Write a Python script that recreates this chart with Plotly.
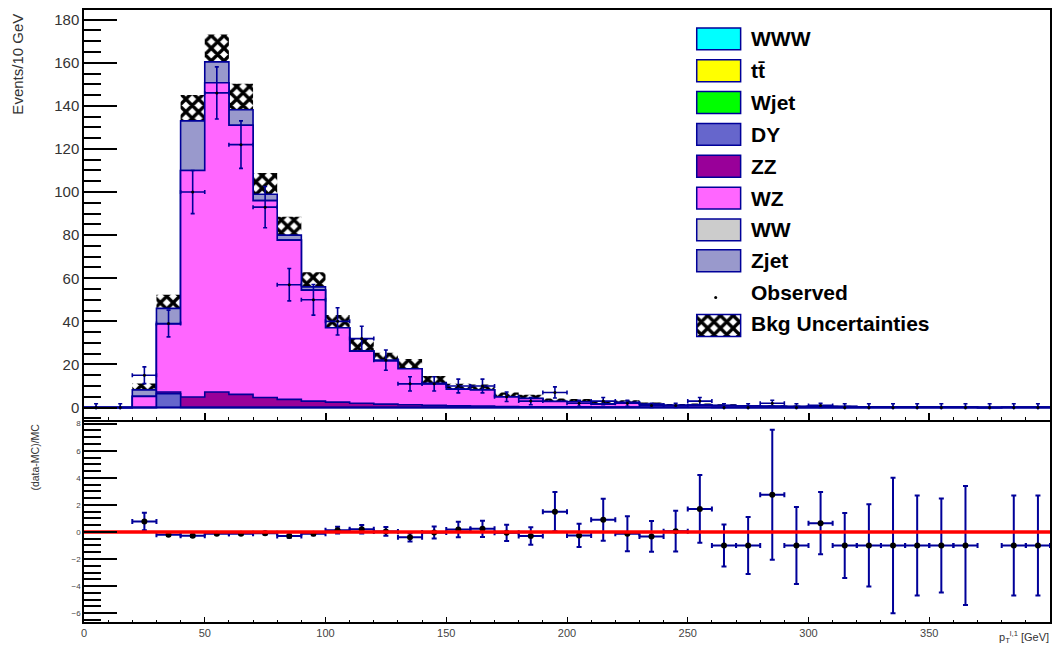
import plotly.graph_objects as go

# ---------------------------------------------------------------------------
# Binning: 40 bins of 10 GeV from 0 to 400 GeV
# ---------------------------------------------------------------------------
N_BINS = 40
edges = [10 * i for i in range(N_BINS + 1)]
centers = [e + 5 for e in edges[:-1]]

# Background components (events per bin), stacked bottom -> top
www = [0.0] * N_BINS
ttbar = [0.0] * N_BINS
wjet = [0.0] * N_BINS
dy = [0, 0, 0, 6.4, 0, 0, 0, 0, 0, 0,
      0, 0, 0, 0, 0, 0, 0, 0, 0, 0,
      0, 0, 0, 0, 0, 0, 0, 0, 0, 0,
      0, 0, 0, 0, 0, 0, 0, 0, 0, 0]
zz = [0, 0, 0, 0.8, 4.9, 7.2, 6.1, 4.7, 3.8, 3.0,
      2.5, 2.0, 1.6, 1.3, 1.0, 0.8, 0.7, 0.5, 0.4, 0.35,
      0.3, 0.25, 0.2, 0.15, 0.15, 0.12, 0.1, 0.1, 0.08, 0.08,
      0.06, 0.05, 0.05, 0.04, 0.04, 0.03, 0.03, 0, 0.02, 0.02]
wz = [0, 0, 5.2, 31.6, 105.1, 143.5, 124.9, 91.3, 73.9, 51.5,
      34.5, 24.2, 20.0, 16.7, 10.1, 7.7, 7.5, 4.5, 3.8, 2.45,
      2.4, 1.35, 2.1, 1.35, 0.8, 1.0, 0.8, 0.6, 0.45, 0.42,
      0.54, 0.4, 0.3, 0.26, 0.26, 0.22, 0.17, 0, 0.13, 0.13]
ww = [0.0] * N_BINS
zjet = [0, 0, 3.0, 7.2, 23.0, 9.7, 7.2, 3.0, 2.3, 1.5,
        0, 0, 0, 0, 0, 0, 0, 0, 0, 0,
        0, 0, 0, 0, 0, 0, 0, 0, 0, 0,
        0, 0, 0, 0, 0, 0, 0, 0, 0, 0]

# Total background uncertainty per bin
bkg_err = [0, 0, 3.0, 6.3, 12.0, 12.7, 12.0, 9.8, 8.5, 6.8,
           6.0, 6.0, 3.8, 4.5, 3.5, 2.5, 2.5, 2.0, 1.8, 1.4,
           1.3, 1.0, 1.1, 0.9, 0.7, 0.8, 0.6, 0.5, 0.5, 0.4,
           0.45, 0.35, 0.3, 0.3, 0.3, 0.25, 0.2, 0, 0.15, 0.15]

# Observed events and their errors (upper / lower)
data = [0, 0, 15, 39, 100, 146, 122, 93, 57, 50,
        40, 32, 22, 11, 11, 10, 10, 5, 3, 7,
        2, 3, 2, 1, 1, 3, 0, 0, 2, 0,
        1, 0, 0, 0, 0, 0, 0, 0, 0, 0]
data_err_up = [1.8, 1.8, 3.9, 6.2, 10.0, 12.1, 11.0, 9.6, 7.5, 7.1,
               6.3, 5.7, 4.7, 3.3, 3.3, 3.2, 3.2, 2.2, 1.7, 2.6,
               1.4, 1.7, 1.4, 1.0, 1.0, 1.7, 1.8, 1.8, 1.4, 1.8,
               1.0, 1.8, 1.8, 1.8, 1.8, 1.8, 1.8, 1.8, 1.8, 1.8]
data_err_dn = [0, 0, 3.9, 6.2, 10.0, 12.1, 11.0, 9.6, 7.5, 7.1,
               6.3, 5.7, 4.7, 3.3, 3.3, 3.2, 3.2, 2.2, 1.7, 2.6,
               1.4, 1.7, 1.4, 1.0, 1.0, 1.7, 0, 0, 1.4, 0,
               1.0, 0, 0, 0, 0, 0, 0, 0, 0, 0]
data_xerr = [0, 0, 5, 5, 5, 5, 5, 5, 5, 5,
             5, 5, 5, 5, 5, 5, 5, 5, 5, 5,
             5, 5, 5, 5, 5, 5, 0, 0, 5, 0,
             5, 0, 0, 0, 0, 0, 0, 0, 0, 0]

# Ratio panel: (data - MC) / MC
ratio_x = [25, 35, 45, 55, 65, 75, 85, 95, 105, 115,
           125, 135, 145, 155, 165, 175, 185, 195, 205, 215,
           225, 235, 245, 255, 265, 275, 285, 295, 305, 315,
           325, 335, 345, 355, 365, 385, 395]
ratio = [0.77, -0.2, -0.28, -0.13, -0.13, -0.09, -0.3, -0.13, 0.13, 0.2,
         0.04, -0.4, -0.04, 0.18, 0.23, -0.06, -0.3, 1.5, -0.26, 0.9,
         -0.13, -0.33, 0.06, 1.7, -1, -1, 2.75, -1, 0.65, -1,
         -1, -1, -1, -1, -1, -1, -1]
ratio_err = [0.65, 0.1, 0.1, 0.08, 0.08, 0.1, 0.12, 0.12, 0.25, 0.32,
             0.33, 0.3, 0.45, 0.58, 0.6, 0.6, 0.65, 1.45, 0.86, 1.55,
             1.29, 1.13, 1.5, 2.5, 1.55, 2.1, 4.8, 2.84, 2.3, 2.4,
             3.04, 5.0, 3.7, 3.47, 4.39, 3.7, 3.7]

# Stack order (bottom -> top) with fill colours
stack = [
    ("WWW", www, "#00ffff"),
    ("t\u0074\u0304", ttbar, "#ffff00"),
    ("Wjet", wjet, "#00ff00"),
    ("DY", dy, "#6666cc"),
    ("ZZ", zz, "#990099"),
    ("WZ", wz, "#ff66ff"),
    ("WW", ww, "#cccccc"),
    ("Zjet", zjet, "#9999cc"),
]

NAVY = "#000099"
FONT = "Liberation Sans, Arial, Helvetica, sans-serif"
HATCH = dict(shape="x", fgcolor="black", fgopacity=1, size=9, solidity=0.6)

# ---------------------------------------------------------------------------
# Page geometry (pixels)
# ---------------------------------------------------------------------------
W, H = 1059, 646
ML, MR, MT, MB = 84, 7, 7, 24
PW, PH = W - ML - MR, H - MT - MB


def fx(px):
    return (px - ML) / PW


def fy(py):
    return (H - MB - py) / PH


fig = go.Figure()

# Cumulative stack, drawn from the top layer down so lower layers sit on top
cumul = []
running = [0.0] * N_BINS
for name, vals, col in stack:
    running = [r + v for r, v in zip(running, vals)]
    cumul.append((name, list(running), col))

for name, tot, col in reversed(cumul):
    fig.add_trace(go.Scatter(
        x=edges, y=tot + [tot[-1]], mode="lines", line_shape="hv",
        line=dict(color=NAVY, width=1.6), fill="tozeroy", fillcolor=col,
        showlegend=False, hoverinfo="skip", xaxis="x", yaxis="y"))

total = cumul[-1][1]

# Background uncertainty band
fig.add_trace(go.Bar(
    x=centers, base=[t - e for t, e in zip(total, bkg_err)],
    y=[2 * e for e in bkg_err], width=10,
    marker=dict(color="rgba(0,0,0,0)", line=dict(width=0),
                pattern=dict(HATCH, bgcolor="rgba(0,0,0,0)")),
    showlegend=False, hoverinfo="skip", xaxis="x", yaxis="y"))

# Observed data
fig.add_trace(go.Scatter(
    x=centers, y=data, mode="markers",
    marker=dict(color="black", size=3),
    error_y=dict(type="data", array=data_err_up, arrayminus=data_err_dn,
                 symmetric=False, color=NAVY, thickness=1.6, width=2),
    error_x=dict(type="data", array=data_xerr, symmetric=True,
                 color=NAVY, thickness=1.6, width=2),
    showlegend=False, hoverinfo="skip", xaxis="x", yaxis="y"))

# Ratio points
fig.add_trace(go.Scatter(
    x=ratio_x, y=ratio, mode="markers",
    marker=dict(color="black", size=6),
    error_y=dict(type="data", array=ratio_err, symmetric=True,
                 color=NAVY, thickness=2, width=2.5),
    error_x=dict(type="constant", value=5, color=NAVY, thickness=2, width=2.5),
    showlegend=False, hoverinfo="skip", xaxis="x2", yaxis="y2"))

# Reference line at zero
fig.add_trace(go.Scatter(
    x=[0, 400], y=[0, 0], mode="lines", line=dict(color="#ff0000", width=3.5),
    showlegend=False, hoverinfo="skip", xaxis="x2", yaxis="y2"))

# ---------------------------------------------------------------------------
# Legend drawn on a pixel-space overlay
# ---------------------------------------------------------------------------
LEG_X0, LEG_X1 = 698, 742
LEG_TEXT_X = 750
leg_rows = [36, 68, 100, 132, 164, 196, 228, 259]
shapes = []
annotations = []
for (name, _, col), yc in zip(stack, leg_rows):
    shapes.append(dict(type="rect", xref="x3", yref="y3",
                       x0=LEG_X0, x1=LEG_X1, y0=yc - 11, y1=yc + 11,
                       fillcolor=col, line=dict(color=NAVY, width=1.5)))
    annotations.append(dict(xref="x3", yref="y3", x=LEG_TEXT_X, y=yc,
                            text="<b>%s</b>" % name, showarrow=False,
                            xanchor="left", yanchor="middle",
                            font=dict(family=FONT, size=21, color="black")))

fig.add_trace(go.Scatter(
    x=[717], y=[296], mode="markers", marker=dict(color="black", size=3),
    showlegend=False, hoverinfo="skip", xaxis="x3", yaxis="y3"))
annotations.append(dict(xref="x3", yref="y3", x=LEG_TEXT_X, y=291,
                        text="<b>Observed</b>", showarrow=False,
                        xanchor="left", yanchor="middle",
                        font=dict(family=FONT, size=21, color="black")))

fig.add_trace(go.Bar(
    x=[(LEG_X0 + LEG_X1) / 2], base=[313], y=[22], width=LEG_X1 - LEG_X0,
    marker=dict(color="white", line=dict(color=NAVY, width=1.5),
                pattern=dict(HATCH, bgcolor="white")),
    showlegend=False, hoverinfo="skip", xaxis="x3", yaxis="y3"))
annotations.append(dict(xref="x3", yref="y3", x=LEG_TEXT_X, y=322,
                        text="<b>Bkg Uncertainties</b>", showarrow=False,
                        xanchor="left", yanchor="middle",
                        font=dict(family=FONT, size=21, color="black")))

# Axis titles
annotations.append(dict(xref="paper", yref="paper", x=fx(17), y=fy(9),
                        text="Events/10 GeV", textangle=-90, showarrow=False,
                        xanchor="center", yanchor="top",
                        font=dict(family=FONT, size=15, color="#333")))
annotations.append(dict(xref="paper", yref="paper", x=fx(35), y=fy(421),
                        text="(data-MC)/MC", textangle=-90, showarrow=False,
                        xanchor="center", yanchor="top",
                        font=dict(family=FONT, size=10.5, color="#333")))
annotations.append(dict(xref="paper", yref="paper", x=fx(1053), y=fy(637),
                        text="p<sub>T</sub><sup>l,1</sup> [GeV]",
                        showarrow=False, xanchor="right", yanchor="middle",
                        font=dict(family=FONT, size=11, color="#333")))

# ---------------------------------------------------------------------------
# Axes
# ---------------------------------------------------------------------------
TOP_BOTTOM_PX, BOT_TOP_PX = 419.5, 421.5

frame = dict(showline=True, linecolor="black", linewidth=1.5, mirror=True,
             showgrid=False, zeroline=False, ticks="inside",
             tickcolor="black")

fig.update_layout(
    width=W, height=H,
    margin=dict(l=ML, r=MR, t=MT, b=MB, pad=0),
    paper_bgcolor="white", plot_bgcolor="rgba(0,0,0,0)",
    font=dict(family=FONT, color="#333"),
    barmode="overlay",
    showlegend=False,
    xaxis=dict(domain=[0, 1], range=[0, 400], anchor="y",
               showticklabels=False, tick0=0, dtick=50, ticklen=8,
               tickwidth=1.5,
               minor=dict(ticks="inside", dtick=10, ticklen=4,
                          tickcolor="black", tickwidth=1), **frame),
    yaxis=dict(domain=[fy(TOP_BOTTOM_PX), 1], range=[-6.0, 184.47],
               anchor="x", tick0=0, dtick=20, ticklen=33, tickwidth=1.5,
               tickfont=dict(size=15, color="#333"),
               minor=dict(ticks="inside", dtick=5, ticklen=17,
                          tickcolor="black", tickwidth=1.5), **frame),
    xaxis2=dict(domain=[0, 1], range=[0, 400], anchor="y2",
                tick0=0, dtick=50, ticklen=5, tickwidth=1.2,
                tickfont=dict(size=11, color="#444"),
                minor=dict(ticks="inside", dtick=10, ticklen=2.5,
                           tickcolor="black", tickwidth=1), **frame),
    yaxis2=dict(domain=[0, fy(BOT_TOP_PX)], range=[-6.654, 8.088],
                anchor="x2", tick0=0, dtick=2, ticklen=33, tickwidth=1.5,
                tickfont=dict(size=8, color="#444"),
                minor=dict(ticks="inside", dtick=0.5, ticklen=17,
                           tickcolor="black", tickwidth=1.5), **frame),
    xaxis3=dict(domain=[0, 1], range=[ML, W - MR], anchor="y3",
                visible=False, fixedrange=True),
    yaxis3=dict(domain=[0, 1], range=[H - MB, MT], anchor="x3",
                visible=False, fixedrange=True),
    shapes=shapes,
    annotations=annotations,
)

fig.write_html("out.html")
